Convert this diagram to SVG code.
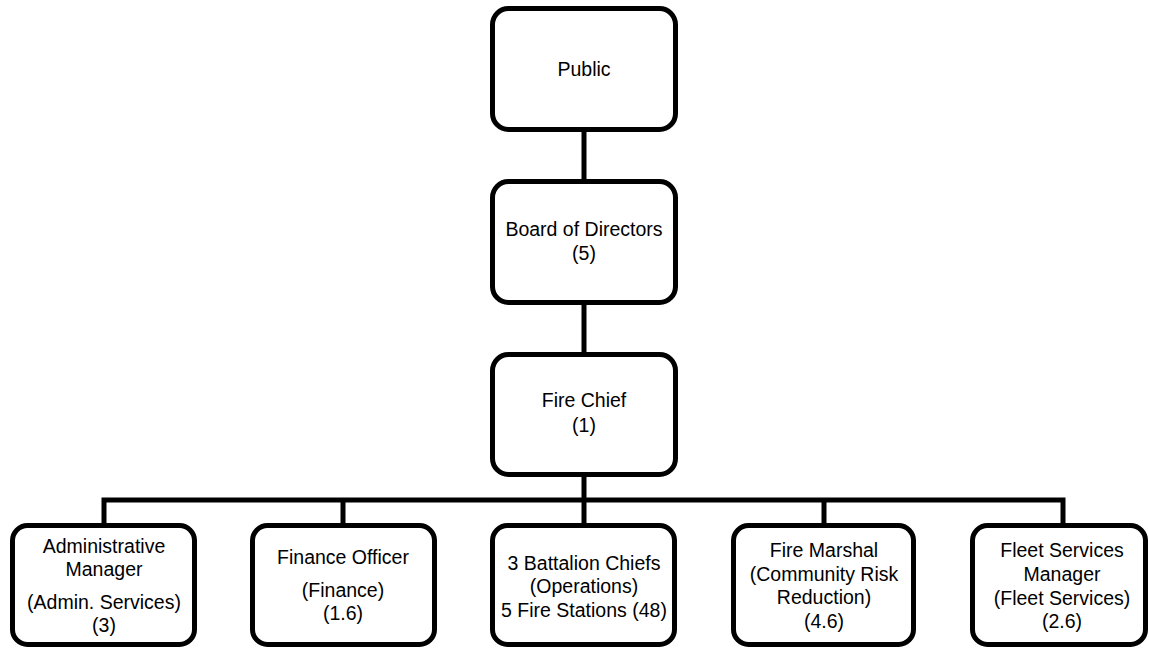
<svg xmlns="http://www.w3.org/2000/svg" width="1149" height="650" viewBox="0 0 1149 650">
<style>
.box{fill:#fff;stroke:#000;stroke-width:5}
.ln{fill:none;stroke:#000;stroke-width:5;stroke-linejoin:miter;stroke-linecap:butt}
text{font-family:"Liberation Sans",Arial,sans-serif;font-size:19.5px;fill:#000;text-anchor:middle}
</style>
<rect width="1149" height="650" fill="#fff"/>
<g id="connectors">
<path class="ln" d="M584 132V179M584 305V352M584 477V500"/>
<path class="ln" d="M104 523V500H1063V523M343 500V523M584 500V523M824 500V523"/>
</g>
<g id="public">
<rect class="box" x="492.5" y="8.5" width="183" height="121" rx="16"/>
<text x="584" y="76">Public</text>
</g>
<g id="board">
<rect class="box" x="492.5" y="181.5" width="183" height="121" rx="16"/>
<text x="584" y="236">Board of Directors</text>
<text x="584" y="260">(5)</text>
</g>
<g id="chief">
<rect class="box" x="492.5" y="354.5" width="183" height="120" rx="16"/>
<text x="584" y="407">Fire Chief</text>
<text x="584" y="432">(1)</text>
</g>
<g id="admin">
<rect class="box" x="12.5" y="525.5" width="182" height="119" rx="15"/>
<text x="104" y="553">Administrative</text>
<text x="104" y="576">Manager</text>
<text x="104" y="609">(Admin. Services)</text>
<text x="104" y="632">(3)</text>
</g>
<g id="finance">
<rect class="box" x="252.5" y="525.5" width="182" height="119" rx="15"/>
<text x="343" y="564">Finance Officer</text>
<text x="343" y="597">(Finance)</text>
<text x="343" y="620">(1.6)</text>
</g>
<g id="battalion">
<rect class="box" x="492.5" y="525.5" width="182" height="119" rx="15"/>
<text x="584" y="570">3 Battalion Chiefs</text>
<text x="584" y="593">(Operations)</text>
<text x="584" y="617">5 Fire Stations (48)</text>
</g>
<g id="marshal">
<rect class="box" x="733.5" y="525.5" width="180" height="119" rx="15"/>
<text x="824" y="557">Fire Marshal</text>
<text x="824" y="581">(Community Risk</text>
<text x="824" y="604">Reduction)</text>
<text x="824" y="628">(4.6)</text>
</g>
<g id="fleet">
<rect class="box" x="972.5" y="525.5" width="173" height="119" rx="15"/>
<text x="1062" y="557">Fleet Services</text>
<text x="1062" y="581">Manager</text>
<text x="1062" y="605">(Fleet Services)</text>
<text x="1062" y="628">(2.6)</text>
</g>
</svg>
